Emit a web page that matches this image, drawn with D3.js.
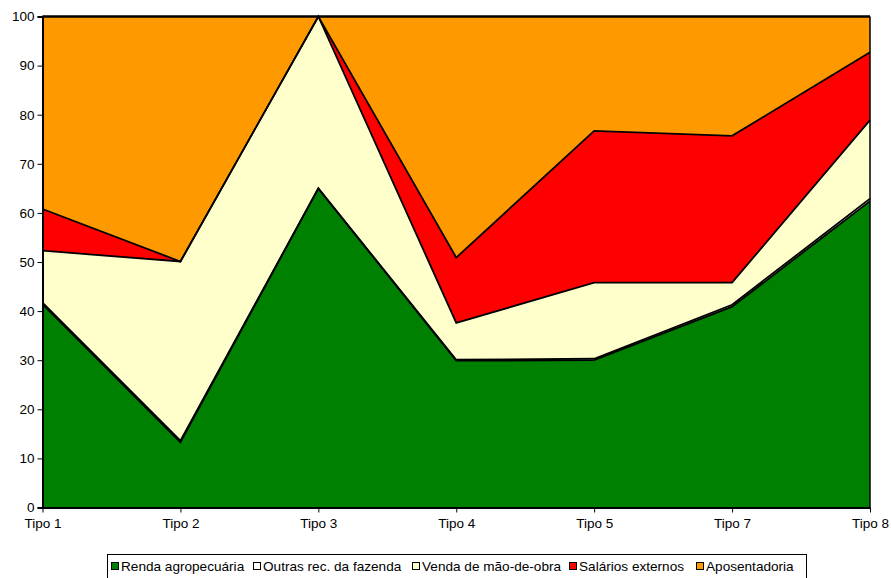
<!DOCTYPE html>
<html><head><meta charset="utf-8">
<script src="https://cdn.jsdelivr.net/npm/d3@7"></script>
<style>
html,body{margin:0;padding:0;background:#fff;}
text{font-family:"Liberation Sans",Arial,sans-serif;}
</style></head>
<body><svg id="c" width="891" height="578"></svg>
<script>
const categories = ["Tipo 1","Tipo 2","Tipo 3","Tipo 4","Tipo 5","Tipo 7","Tipo 8"];
const rendaAgropecuaria = [41.4, 13.3, 65.0, 29.9, 30.0, 40.9, 62.4];
const outrasRec        = [0.3, 0.3, 0.0, 0.2, 0.3, 0.4, 0.5];
const vendaMaoDeObra   = [10.6, 36.5, 35.0, 7.5, 15.5, 4.5, 16.0];
const salariosExternos = [8.5, 0.0, 0.0, 13.3, 30.9, 29.9, 13.8];
const aposentadoria    = [39.2, 49.9, 0.0, 49.1, 23.3, 24.3, 7.3];
const seriesNames = ["Renda agropecuária","Outras rec. da fazenda","Venda de mão-de-obra","Salários externos","Aposentadoria"];
const seriesColors = ["#008000","#FFFFFF","#FFFFCC","#FF0000","#FF9900"];
const yTicks = [0,10,20,30,40,50,60,70,80,90,100];

(function(){
const keys = ["r","o","v","s","a"];
const table = categories.map((c,i)=>({cat:c, r:rendaAgropecuaria[i], o:outrasRec[i], v:vendaMaoDeObra[i], s:salariosExternos[i], a:aposentadoria[i]}));
const stack = d3.stack().keys(keys)(table);

const svg = d3.select("#c");
const pL=42.5, pR=870, pT=16.5, pB=507.5;
const x = d3.scalePoint().domain(categories).range([pL,pR]);
const y = d3.scaleLinear().domain([0,100]).range([pB,pT]);

const area = d3.area().x((d,i)=>x(categories[i])).y0(d=>y(d[0])).y1(d=>y(d[1]));
const line = d3.line().x((d,i)=>x(categories[i])).y(d=>y(d[1]));

const g = svg.append("g");
stack.forEach((s,k)=>{
  g.append("path").attr("d",area(s)).attr("fill",seriesColors[k]).attr("stroke","none");
});
stack.forEach((s,k)=>{
  g.append("path").attr("d",line(s)).attr("fill","none").attr("stroke","#000").attr("stroke-width",1.8).attr("stroke-linejoin","miter");
});

svg.append("line").attr("x1",pL).attr("x2",pR).attr("y1",pT).attr("y2",pT).attr("stroke","#000").attr("stroke-width",1.8);
svg.append("line").attr("x1",pR).attr("x2",pR).attr("y1",pT).attr("y2",pB).attr("stroke","#000").attr("stroke-width",1.5);

const yAxis = d3.axisLeft(y).tickValues(yTicks).tickSize(5).tickPadding(3);
const ya = svg.append("g").attr("transform",`translate(${pL},0)`).call(yAxis);
ya.select(".domain").attr("stroke","#000").attr("stroke-width",2);
ya.selectAll(".tick line").attr("stroke","#000").attr("stroke-width",1);
ya.selectAll(".tick text").attr("font-size",13.5).attr("fill","#000").attr("font-family","Liberation Sans, Arial, sans-serif");

const xAxis = d3.axisBottom(x).tickSize(5).tickPadding(6).tickSizeOuter(0);
const xa = svg.append("g").attr("transform",`translate(0,${pB})`).call(xAxis);
xa.select(".domain").attr("stroke","#000").attr("stroke-width",2);
xa.selectAll(".tick line").attr("stroke","#000").attr("stroke-width",1);
xa.selectAll(".tick text").attr("font-size",13.5).attr("fill","#000").attr("font-family","Liberation Sans, Arial, sans-serif");

const lg = svg.append("g");
lg.append("rect").attr("x",107.5).attr("y",554.5).attr("width",699).attr("height",24).attr("fill","#fff").attr("stroke","#000").attr("stroke-width",1);
const itemX = [111, 253, 412, 569, 696];
seriesNames.forEach((n,k)=>{
  lg.append("rect").attr("x",itemX[k]+0.5).attr("y",562.5).attr("width",7).attr("height",7).attr("fill",seriesColors[k]).attr("stroke","#000").attr("stroke-width",1);
  lg.append("text").attr("x",itemX[k]+10).attr("y",571).attr("font-size",13.6).attr("fill","#000").text(n);
});
})();
</script></body></html>
